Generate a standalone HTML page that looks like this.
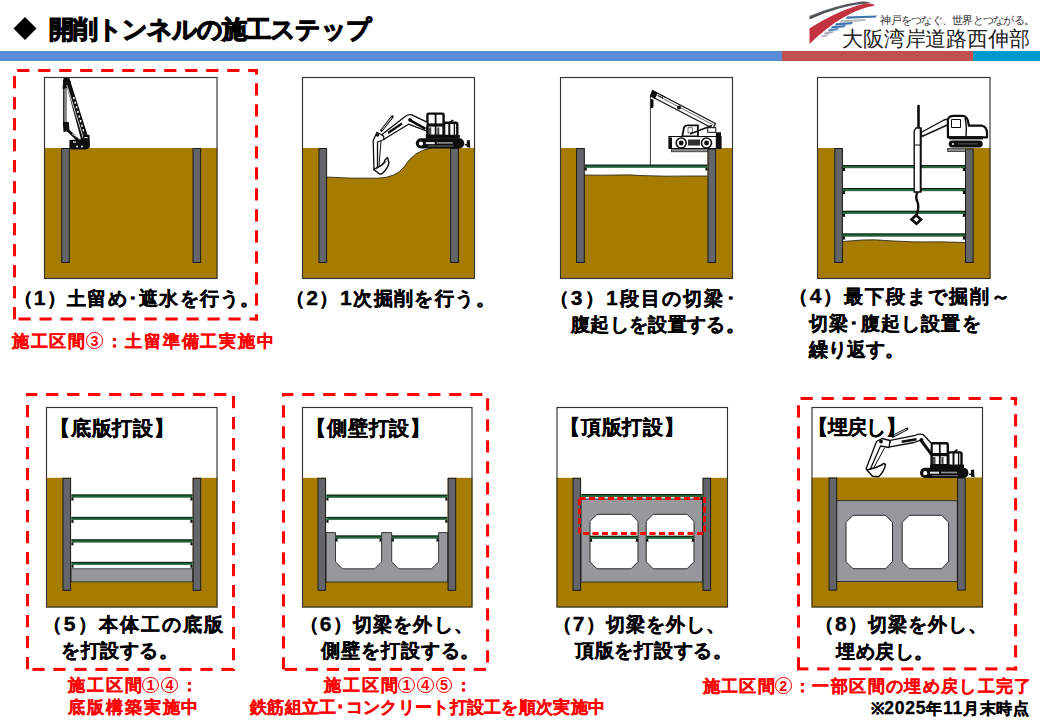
<!DOCTYPE html>
<html><head><meta charset="utf-8"><style>
html,body{margin:0;padding:0;background:#fff;}
#root{position:relative;width:1040px;height:720px;overflow:hidden;background:#fff;font-family:'Liberation Sans',sans-serif;}
svg{position:absolute;left:0;top:0;}
</style></head><body><div id="root">
<svg width="1040" height="720" viewBox="0 0 1040 720">
<rect x="0" y="51" width="782" height="10" fill="#558ED5"/>
<rect x="782" y="51" width="191" height="10" fill="#C0504D"/>
<rect x="973" y="51" width="67" height="10" fill="#0099CC"/>
<path d="M25 17 L36.5 28.5 L25 40 L13.5 28.5Z" fill="#000"/>
<path d="M809.5 16 Q836 5 862 1.5 Q868 1.2 871 3 Q840 5 809.5 19.5Z" fill="#4d4d4d"/>
<path d="M810 16.5 Q836 6.5 862 2.8" fill="none" stroke="#6b9bd0" stroke-width="0.6" stroke-dasharray="1 1.5"/>
<path d="M809.5 28.5 Q840 9 866 3.5 Q873 3 875 5.5 Q843 11 809.5 44Z" fill="#C3323F"/>
<path d="M847 16.6 L877 15.400000000000002 L875.5 17.5 L845.8 18.8Z" fill="#3a74b0"/>
<path d="M841 20.2 L866 19.0 L864.5 21.099999999999998 L839.8 22.4Z" fill="#b4b8bd"/>
<path d="M836 23.3 L853 22.1 L851.5 24.2 L834.8 25.5Z" fill="#3a74b0"/>
<path d="M832 26.3 L846 25.1 L844.5 27.2 L830.8 28.5Z" fill="#3a74b0"/>
<path d="M829 29.3 L839 28.1 L837.5 30.2 L827.8 31.5Z" fill="#4f86bf"/>
<path d="M825 32.3 L834 31.099999999999998 L832.5 33.199999999999996 L823.8 34.5Z" fill="#a9adb2"/>
<path d="M822 35.3 L829 34.099999999999994 L827.5 36.199999999999996 L820.8 37.5Z" fill="#b9bcc0"/>
<rect x="44" y="77" width="173.5" height="202" fill="#fff"/>
<rect x="44" y="148" width="173.5" height="131" fill="#A67C00"/>
<rect x="61.7" y="148.5" width="7.599999999999994" height="114" fill="#646568" stroke="#1a1a1a" stroke-width="1"/>
<rect x="193.0" y="148.5" width="7.599999999999994" height="114" fill="#646568" stroke="#1a1a1a" stroke-width="1"/>
<rect x="63.3" y="80" width="3.7" height="46" fill="#8c8c8c"/><line x1="63.7" y1="80" x2="63.7" y2="126" stroke="#0d0d0d" stroke-width="1"/>
<path d="M63.5 78 L68.5 77.8 L71 82 L67 88 L62.5 89 Z" fill="#0d0d0d"/>
<path d="M64.6 78.3 L69.4 78.3 L89.3 140.5 L81.3 140.5 Z" fill="#0d0d0d"/>
<path d="M66.8 85 L83.6 139" fill="none" stroke="#fff" stroke-width="0.8"/>
<rect x="73.10" y="97.00" width="1.5" height="2.2" fill="#fff"/>
<rect x="74.46" y="101.60" width="1.5" height="2.2" fill="#fff"/>
<rect x="75.81" y="106.20" width="1.5" height="2.2" fill="#fff"/>
<rect x="77.16" y="110.80" width="1.5" height="2.2" fill="#fff"/>
<rect x="78.52" y="115.40" width="1.5" height="2.2" fill="#fff"/>
<rect x="79.87" y="120.00" width="1.5" height="2.2" fill="#fff"/>
<rect x="81.22" y="124.60" width="1.5" height="2.2" fill="#fff"/>
<rect x="82.58" y="129.20" width="1.5" height="2.2" fill="#fff"/>
<rect x="83.93" y="133.80" width="1.5" height="2.2" fill="#fff"/>
<path d="M62.8 122 L68.8 122 L69.5 131 L63.5 132 Z" fill="#0d0d0d"/>
<path d="M66 128.5 L78 140" stroke="#0d0d0d" stroke-width="3"/>
<path d="M72 134 L77 137" stroke="#fff" stroke-width="0.8"/>
<path d="M69.4 140 L83 139 L84 134 L89.5 135 L90 147 Q88 149.5 85 149.5 L72 149.5 Q69 149.5 69.4 146Z" fill="#0d0d0d"/>
<rect x="73" y="141.5" width="3" height="1.2" fill="#fff"/><rect x="84.5" y="137" width="3" height="1.2" fill="#fff"/>
<circle cx="77" cy="146.5" r="0.9" fill="#fff"/><circle cx="82" cy="146.5" r="0.9" fill="#fff"/>
<rect x="44.5" y="77.5" width="172.5" height="201" fill="none" stroke="#333" stroke-width="1.15"/>
<rect x="302" y="77" width="173" height="202" fill="#fff"/>
<rect x="302" y="148" width="173" height="131" fill="#A67C00"/>
<path d="M326.5 147 L326.5 177 Q350 178.6 378 178.2 Q396 177.5 404 167 Q414 151 430 148.3 L432 148 L432 147 Z" fill="#fff"/>
<path d="M326.5 177 Q350 178.6 378 178.2 Q396 177.5 404 167 Q414 151 430 148.3 L432 148" fill="none" stroke="#1a1a1a" stroke-width="0.8"/>
<rect x="319.0" y="148.5" width="7.600000000000023" height="114" fill="#646568" stroke="#1a1a1a" stroke-width="1"/>
<rect x="450.6" y="148.5" width="7.7999999999999545" height="114" fill="#646568" stroke="#1a1a1a" stroke-width="1"/>
<g transform="translate(415.8,148.4)"><rect x="0" y="-10.2" width="48.5" height="10.2" rx="5.1" fill="#0d0d0d"/><rect x="10" y="-6.3" width="9" height="2" fill="#fff" opacity="0.9"/><rect x="21" y="-6.3" width="16" height="1.6" fill="#fff" opacity="0.55"/><rect x="12" y="-3" width="26" height="1.2" fill="#fff" opacity="0.35"/><circle cx="5.2" cy="-4.8" r="2.1" fill="#fff"/><path d="M49 -4.5 L51 -4.5 L51 -8 L54 -8.5 L54.5 -0.5 L51 -1.5 L51 -3 L49 -3Z" fill="#0d0d0d"/><rect x="10" y="-13.5" width="34" height="3.8" fill="#0d0d0d"/><rect x="11.6" y="-34.8" width="16.2" height="22" rx="1.2" fill="#fff" stroke="#0d0d0d" stroke-width="2.4"/><line x1="19.8" y1="-35" x2="19.8" y2="-13" stroke="#0d0d0d" stroke-width="1.8"/><rect x="11.4" y="-25" width="16.6" height="3.2" fill="#0d0d0d"/><ellipse cx="15.6" cy="-29.6" rx="2.2" ry="3.6" fill="#fff"/><rect x="12.5" y="-21" width="3" height="8" fill="#0d0d0d" opacity="0.75"/><rect x="21.5" y="-21" width="2" height="8" fill="#0d0d0d" opacity="0.8"/><rect x="28.3" y="-25.6" width="13.2" height="13.2" rx="1.5" fill="#fff" stroke="#0d0d0d" stroke-width="2.4"/><line x1="33.5" y1="-25" x2="33.5" y2="-13" stroke="#0d0d0d" stroke-width="2"/><line x1="38.6" y1="-25" x2="38.6" y2="-13" stroke="#0d0d0d" stroke-width="1.4"/><path d="M33 -26 L36.5 -29 L38 -28 L35 -25.5Z" fill="#0d0d0d"/></g>
<path d="M427.4 122.3 L411.3 114.7 Q407.5 114 404.5 117 L382 134.6 L383.9 139.3 L408.5 124.2 L426.5 131 Z" fill="#fff" stroke="#0d0d0d" stroke-width="1.3" stroke-linejoin="round"/>
<path d="M410.3 120.4 L425.5 128.9" stroke="#0d0d0d" stroke-width="2.6"/>
<circle cx="410" cy="119.8" r="1.9" fill="#0d0d0d"/>
<path d="M388 133 L402 123.5" stroke="#0d0d0d" stroke-width="2.2"/>
<path d="M381.5 130.5 L392.4 116.6" stroke="#0d0d0d" stroke-width="2.6" stroke-linecap="round"/>
<path d="M382.3 129.6 L391.7 117.4" stroke="#fff" stroke-width="0.9"/>
<path d="M383.5 136 L377 132.3 L373.2 140.5 L374 170 L377.5 170.5 L377.5 142 L384 139.5 Z" fill="#fff" stroke="#0d0d0d" stroke-width="1.3" stroke-linejoin="round"/>
<path d="M381 141 L378.8 168" stroke="#0d0d0d" stroke-width="1"/>
<circle cx="377.5" cy="135" r="1.8" fill="#0d0d0d"/>
<path d="M373.8 169.5 L379.5 174 L382 173.8 Q387.5 169 389 163 L387.5 157.5 L385 160 Q384 165 377 167.5 Z" fill="#fff" stroke="#0d0d0d" stroke-width="1.4" stroke-linejoin="round"/>
<path d="M376 169 L386.5 161.5" stroke="#0d0d0d" stroke-width="0.8"/>
<rect x="302.5" y="77.5" width="172" height="201" fill="none" stroke="#333" stroke-width="1.15"/>
<rect x="560" y="77" width="173" height="202" fill="#fff"/>
<rect x="560" y="148" width="173" height="131" fill="#A67C00"/>
<path d="M584.5 147 L584.5 175 Q600 175.3 618 175 Q630 174.5 640 175.5 Q665 176.5 690 176 L707.5 176 L707.5 147 Z" fill="#fff"/>
<path d="M584.5 175 Q600 175.3 618 175 Q630 174.5 640 175.5 Q665 176.5 690 176 L707.5 176" fill="none" stroke="#1a1a1a" stroke-width="0.8"/>
<rect x="576.6" y="148.5" width="7.699999999999932" height="114" fill="#646568" stroke="#1a1a1a" stroke-width="1"/>
<rect x="708.0" y="149.0" width="7.600000000000023" height="113.5" fill="#646568" stroke="#1a1a1a" stroke-width="1"/>
<rect x="584.8" y="164.70000000000002" width="122.70000000000005" height="3" fill="#1E6638"/>
<rect x="584.8" y="164.70000000000002" width="122.70000000000005" height="0.9" fill="#0d0d0d" opacity="0.9"/>
<rect x="584.8" y="167.00000000000003" width="122.70000000000005" height="0.7" fill="#3f6e50" opacity="0.9"/>
<path d="M584.8 167.70000000000002 l2.6 0 l-0.6 0.7 l0 1.6 l0.8 0.6 l-2.8 0z" fill="#0d0d0d"/>
<path d="M707.5 167.70000000000002 l-2.6 0 l0.6 0.7 l0 1.6 l-0.8 0.6 l2.8 0z" fill="#0d0d0d"/>
<rect x="671.5" y="148.8" width="36" height="3" fill="#8a8a8a" stroke="#222" stroke-width="0.7"/>
<path d="M652.5 90.5 L715.5 123.5 L713 128.5 L650.5 96 Z" fill="#fff" stroke="#0d0d0d" stroke-width="1.2"/>
<path d="M656 95 L713.5 125" stroke="#0d0d0d" stroke-width="0.6"/>
<path d="M652.5 90.5 L657.5 92.5 L655 99 L650.5 96 Z" fill="#0d0d0d"/>
<path d="M658 95.5 L663 98 M660.5 94.8 L665.5 97.5" stroke="#0d0d0d" stroke-width="1"/>
<circle cx="679" cy="107.5" r="2" fill="#0d0d0d"/>
<line x1="650.4" y1="96" x2="650.4" y2="165" stroke="#0d0d0d" stroke-width="0.8"/>
<path d="M650.8 99 L653.5 99.5 L653.5 107 Q652 109 650.5 107.5Z" fill="#0d0d0d"/>
<path d="M682.3 136.4 L684 127.5 Q685 125.4 687 125.4 L697.9 125.4 L697.9 136.4Z" fill="#fff" stroke="#0d0d0d" stroke-width="1.8"/>
<rect x="688" y="127.8" width="4.5" height="5" fill="#fff" stroke="#111" stroke-width="0.6"/>
<path d="M690 134 L712 125.5" stroke="#0d0d0d" stroke-width="1.6"/>
<rect x="707.7" y="127.7" width="8.1" height="4.6" fill="#fff" stroke="#0d0d0d" stroke-width="1"/>
<path d="M669 136.5 L721 136.5 L721 148.5 L669 148.5 Z" fill="#fff" stroke="#0d0d0d" stroke-width="1.2"/>
<rect x="669" y="137.5" width="3" height="11" fill="#0d0d0d"/>
<rect x="715.8" y="132.3" width="5.2" height="16.2" fill="#0d0d0d"/>
<rect x="688" y="139.5" width="12" height="6" fill="#0d0d0d" opacity="0.85"/>
<circle cx="681.2" cy="143" r="5" fill="#fff" stroke="#0d0d0d" stroke-width="1.6"/><circle cx="681.2" cy="143" r="2.4" fill="#0d0d0d"/>
<circle cx="706.5" cy="143" r="5" fill="#fff" stroke="#0d0d0d" stroke-width="1.6"/><circle cx="706.5" cy="143" r="2.4" fill="#0d0d0d"/>
<rect x="560.5" y="77.5" width="172" height="201" fill="none" stroke="#333" stroke-width="1.15"/>
<rect x="817" y="77" width="173.5" height="202" fill="#fff"/>
<rect x="817" y="148" width="173.5" height="131" fill="#A67C00"/>
<path d="M842.5 147 L842.5 241.5 Q852 240.8 862 240 Q875 239.3 890 240.8 Q915 242.5 940 241.8 L965.5 242.5 L965.5 147 Z" fill="#fff"/>
<path d="M842.5 241.5 Q852 240.8 862 240 Q875 239.3 890 240.8 Q915 242.5 940 241.8 L965.5 242.5" fill="none" stroke="#1a1a1a" stroke-width="0.8"/>
<rect x="834.8" y="148.5" width="7.600000000000023" height="114" fill="#646568" stroke="#1a1a1a" stroke-width="1"/>
<rect x="965.5" y="149.0" width="7.600000000000023" height="113.5" fill="#646568" stroke="#1a1a1a" stroke-width="1"/>
<rect x="842.9" y="165.10000000000002" width="122.10000000000002" height="3" fill="#1E6638"/>
<rect x="842.9" y="165.10000000000002" width="122.10000000000002" height="0.9" fill="#0d0d0d" opacity="0.9"/>
<rect x="842.9" y="167.40000000000003" width="122.10000000000002" height="0.7" fill="#3f6e50" opacity="0.9"/>
<path d="M842.9 168.10000000000002 l2.6 0 l-0.6 0.7 l0 1.6 l0.8 0.6 l-2.8 0z" fill="#0d0d0d"/>
<path d="M965 168.10000000000002 l-2.6 0 l0.6 0.7 l0 1.6 l-0.8 0.6 l2.8 0z" fill="#0d0d0d"/>
<rect x="842.9" y="188.10000000000002" width="122.10000000000002" height="3" fill="#1E6638"/>
<rect x="842.9" y="188.10000000000002" width="122.10000000000002" height="0.9" fill="#0d0d0d" opacity="0.9"/>
<rect x="842.9" y="190.40000000000003" width="122.10000000000002" height="0.7" fill="#3f6e50" opacity="0.9"/>
<path d="M842.9 191.10000000000002 l2.6 0 l-0.6 0.7 l0 1.6 l0.8 0.6 l-2.8 0z" fill="#0d0d0d"/>
<path d="M965 191.10000000000002 l-2.6 0 l0.6 0.7 l0 1.6 l-0.8 0.6 l2.8 0z" fill="#0d0d0d"/>
<rect x="842.9" y="210.8" width="122.10000000000002" height="3" fill="#1E6638"/>
<rect x="842.9" y="210.8" width="122.10000000000002" height="0.9" fill="#0d0d0d" opacity="0.9"/>
<rect x="842.9" y="213.10000000000002" width="122.10000000000002" height="0.7" fill="#3f6e50" opacity="0.9"/>
<path d="M842.9 213.8 l2.6 0 l-0.6 0.7 l0 1.6 l0.8 0.6 l-2.8 0z" fill="#0d0d0d"/>
<path d="M965 213.8 l-2.6 0 l0.6 0.7 l0 1.6 l-0.8 0.6 l2.8 0z" fill="#0d0d0d"/>
<rect x="842.9" y="233.5" width="122.10000000000002" height="3" fill="#1E6638"/>
<rect x="842.9" y="233.5" width="122.10000000000002" height="0.9" fill="#0d0d0d" opacity="0.9"/>
<rect x="842.9" y="235.8" width="122.10000000000002" height="0.7" fill="#3f6e50" opacity="0.9"/>
<path d="M842.9 236.5 l2.6 0 l-0.6 0.7 l0 1.6 l0.8 0.6 l-2.8 0z" fill="#0d0d0d"/>
<path d="M965 236.5 l-2.6 0 l0.6 0.7 l0 1.6 l-0.8 0.6 l2.8 0z" fill="#0d0d0d"/>
<rect x="947.6" y="148.6" width="17.8" height="3" fill="#8a8a8a" stroke="#222" stroke-width="0.7"/>
<line x1="918.5" y1="106" x2="918.5" y2="128" stroke="#0d0d0d" stroke-width="2.6" stroke-linecap="round"/>
<path d="M916 128 L921 128 L920.8 192 L914.2 192 L914.2 131Z" fill="#fff" stroke="#0d0d0d" stroke-width="1.4"/>
<line x1="914.5" y1="145" x2="920.5" y2="145" stroke="#0d0d0d" stroke-width="1"/>
<line x1="920.5" y1="128" x2="920.5" y2="192" stroke="#0d0d0d" stroke-width="1.6"/>
<path d="M917.5 192 Q915 197 917.5 202 Q919.5 207 916.5 215" fill="none" stroke="#0d0d0d" stroke-width="2.4"/>
<path d="M909.5 219.5 L916 213.5 L923 219.5 L916.5 225.5 Z" fill="#0d0d0d"/>
<path d="M913.5 219.5 L916 217 L919 219.5 L916.5 222 Z" fill="#fff"/>
<path d="M921 132.5 L944 120 Q947 118.5 949 119.5 L949.5 124 L922 136.5 Z" fill="#fff" stroke="#0d0d0d" stroke-width="1.4"/>
<path d="M948 137.4 L947.8 120 Q948.5 115.8 954 115.8 L963 115.8 Q967.5 116 968.6 124 L969 125.7 L982 125.7 Q987 127 987 133 L987 137.4 Z" fill="#fff" stroke="#0d0d0d" stroke-width="2.2" stroke-linejoin="round"/>
<path d="M951.5 119.5 L960.5 119.5 L960.5 127.5 L951.5 127.5 Z" fill="#fff" stroke="#0d0d0d" stroke-width="1"/>
<path d="M965 118 Q967 126 966 136" fill="none" stroke="#0d0d0d" stroke-width="1.4"/>
<rect x="949" y="136.2" width="34" height="3.2" fill="#0d0d0d"/>
<rect x="948.7" y="140.6" width="34" height="6.8" rx="3.4" fill="#0d0d0d"/>
<circle cx="953" cy="144" r="1" fill="#fff"/><rect x="958" y="143.4" width="20" height="0.9" fill="#fff" opacity="0.35"/>
<rect x="817.5" y="77.5" width="172.5" height="201" fill="none" stroke="#333" stroke-width="1.15"/>
<rect x="46" y="407" width="171.5" height="200.5" fill="#fff"/>
<rect x="46" y="477.8" width="171.5" height="129.7" fill="#A67C00"/>
<rect x="71" y="476" width="121.7" height="93" fill="#fff"/>
<rect x="71" y="568.8" width="121.7" height="13" fill="#96989C" stroke="#2a2a2a" stroke-width="0.8"/>
<rect x="63.0" y="478.3" width="7.599999999999994" height="111.99999999999994" fill="#646568" stroke="#1a1a1a" stroke-width="1"/>
<rect x="193.1" y="478.3" width="7.599999999999994" height="111.99999999999994" fill="#646568" stroke="#1a1a1a" stroke-width="1"/>
<rect x="71.4" y="494.5" width="121.1" height="3" fill="#1E6638"/>
<rect x="71.4" y="494.5" width="121.1" height="0.9" fill="#0d0d0d" opacity="0.9"/>
<rect x="71.4" y="496.8" width="121.1" height="0.7" fill="#3f6e50" opacity="0.9"/>
<path d="M71.4 497.5 l2.6 0 l-0.6 0.7 l0 1.6 l0.8 0.6 l-2.8 0z" fill="#0d0d0d"/>
<path d="M192.5 497.5 l-2.6 0 l0.6 0.7 l0 1.6 l-0.8 0.6 l2.8 0z" fill="#0d0d0d"/>
<rect x="71.4" y="516.9" width="121.1" height="3" fill="#1E6638"/>
<rect x="71.4" y="516.9" width="121.1" height="0.9" fill="#0d0d0d" opacity="0.9"/>
<rect x="71.4" y="519.1999999999999" width="121.1" height="0.7" fill="#3f6e50" opacity="0.9"/>
<path d="M71.4 519.9 l2.6 0 l-0.6 0.7 l0 1.6 l0.8 0.6 l-2.8 0z" fill="#0d0d0d"/>
<path d="M192.5 519.9 l-2.6 0 l0.6 0.7 l0 1.6 l-0.8 0.6 l2.8 0z" fill="#0d0d0d"/>
<rect x="71.4" y="539.4" width="121.1" height="3" fill="#1E6638"/>
<rect x="71.4" y="539.4" width="121.1" height="0.9" fill="#0d0d0d" opacity="0.9"/>
<rect x="71.4" y="541.6999999999999" width="121.1" height="0.7" fill="#3f6e50" opacity="0.9"/>
<path d="M71.4 542.4 l2.6 0 l-0.6 0.7 l0 1.6 l0.8 0.6 l-2.8 0z" fill="#0d0d0d"/>
<path d="M192.5 542.4 l-2.6 0 l0.6 0.7 l0 1.6 l-0.8 0.6 l2.8 0z" fill="#0d0d0d"/>
<rect x="71.4" y="561.9" width="121.1" height="3" fill="#1E6638"/>
<rect x="71.4" y="561.9" width="121.1" height="0.9" fill="#0d0d0d" opacity="0.9"/>
<rect x="71.4" y="564.1999999999999" width="121.1" height="0.7" fill="#3f6e50" opacity="0.9"/>
<path d="M71.4 564.9 l2.6 0 l-0.6 0.7 l0 1.6 l0.8 0.6 l-2.8 0z" fill="#0d0d0d"/>
<path d="M192.5 564.9 l-2.6 0 l0.6 0.7 l0 1.6 l-0.8 0.6 l2.8 0z" fill="#0d0d0d"/>
<rect x="46.5" y="407.5" width="170.5" height="199.5" fill="none" stroke="#333" stroke-width="1.15"/>
<rect x="302" y="407" width="170.5" height="200.5" fill="#fff"/>
<rect x="302" y="477.8" width="170.5" height="129.7" fill="#A67C00"/>
<rect x="326" y="476" width="121.7" height="106" fill="#fff"/>
<path d="M326 532.6 L335.5 532.6 L335.5 561.8 L342.5 568.8 L374.6 568.8 L381.6 561.8 L381.6 532.6 L391.7 532.6 L391.7 561.8 L398.7 568.8 L431.6 568.8 L438.6 561.8 L438.6 532.6 L447.7 532.6 L447.7 582 L326 582Z" fill="#96989C" stroke="#2a2a2a" stroke-width="0.9"/>
<rect x="318.0" y="478.3" width="7.600000000000023" height="111.99999999999994" fill="#646568" stroke="#1a1a1a" stroke-width="1"/>
<rect x="448.1" y="478.3" width="7.599999999999966" height="111.99999999999994" fill="#646568" stroke="#1a1a1a" stroke-width="1"/>
<rect x="326.4" y="494.7" width="121.0" height="3" fill="#1E6638"/>
<rect x="326.4" y="494.7" width="121.0" height="0.9" fill="#0d0d0d" opacity="0.9"/>
<rect x="326.4" y="497.0" width="121.0" height="0.7" fill="#3f6e50" opacity="0.9"/>
<path d="M326.4 497.7 l2.6 0 l-0.6 0.7 l0 1.6 l0.8 0.6 l-2.8 0z" fill="#0d0d0d"/>
<path d="M447.4 497.7 l-2.6 0 l0.6 0.7 l0 1.6 l-0.8 0.6 l2.8 0z" fill="#0d0d0d"/>
<rect x="326.4" y="516.9" width="121.0" height="3" fill="#1E6638"/>
<rect x="326.4" y="516.9" width="121.0" height="0.9" fill="#0d0d0d" opacity="0.9"/>
<rect x="326.4" y="519.1999999999999" width="121.0" height="0.7" fill="#3f6e50" opacity="0.9"/>
<path d="M326.4 519.9 l2.6 0 l-0.6 0.7 l0 1.6 l0.8 0.6 l-2.8 0z" fill="#0d0d0d"/>
<path d="M447.4 519.9 l-2.6 0 l0.6 0.7 l0 1.6 l-0.8 0.6 l2.8 0z" fill="#0d0d0d"/>
<rect x="335.5" y="535.5" width="46.10000000000002" height="3" fill="#1E6638"/>
<rect x="335.5" y="535.5" width="46.10000000000002" height="0.9" fill="#0d0d0d" opacity="0.9"/>
<rect x="335.5" y="537.8" width="46.10000000000002" height="0.7" fill="#3f6e50" opacity="0.9"/>
<path d="M335.5 538.5 l2.6 0 l-0.6 0.7 l0 1.6 l0.8 0.6 l-2.8 0z" fill="#0d0d0d"/>
<path d="M381.6 538.5 l-2.6 0 l0.6 0.7 l0 1.6 l-0.8 0.6 l2.8 0z" fill="#0d0d0d"/>
<rect x="391.7" y="535.5" width="46.900000000000034" height="3" fill="#1E6638"/>
<rect x="391.7" y="535.5" width="46.900000000000034" height="0.9" fill="#0d0d0d" opacity="0.9"/>
<rect x="391.7" y="537.8" width="46.900000000000034" height="0.7" fill="#3f6e50" opacity="0.9"/>
<path d="M391.7 538.5 l2.6 0 l-0.6 0.7 l0 1.6 l0.8 0.6 l-2.8 0z" fill="#0d0d0d"/>
<path d="M438.6 538.5 l-2.6 0 l0.6 0.7 l0 1.6 l-0.8 0.6 l2.8 0z" fill="#0d0d0d"/>
<rect x="302.5" y="407.5" width="169.5" height="199.5" fill="none" stroke="#333" stroke-width="1.15"/>
<rect x="556.5" y="407" width="171.5" height="200.5" fill="#fff"/>
<rect x="556.5" y="477.8" width="171.5" height="129.7" fill="#A67C00"/>
<rect x="581" y="476" width="121.7" height="24" fill="#fff"/>
<rect x="581" y="499" width="121.60000000000002" height="83" fill="#96989C" stroke="#2a2a2a" stroke-width="0.9"/>
<path d="M597 514.3 L631 514.3 L638 521.3 L638 561.8 L631 568.8 L597 568.8 L590 561.8 L590 521.3Z" fill="#fff" stroke="#2a2a2a" stroke-width="1"/>
<path d="M653.2 514.3 L687 514.3 L694 521.3 L694 561.8 L687 568.8 L653.2 568.8 L646.2 561.8 L646.2 521.3Z" fill="#fff" stroke="#2a2a2a" stroke-width="1"/>
<rect x="573.0" y="478.3" width="7.600000000000023" height="111.99999999999994" fill="#646568" stroke="#1a1a1a" stroke-width="1"/>
<rect x="703.0" y="478.3" width="7.600000000000023" height="111.99999999999994" fill="#646568" stroke="#1a1a1a" stroke-width="1"/>
<rect x="581.4" y="494.1" width="121.0" height="3" fill="#1E6638"/>
<rect x="581.4" y="494.1" width="121.0" height="0.9" fill="#0d0d0d" opacity="0.9"/>
<rect x="581.4" y="496.40000000000003" width="121.0" height="0.7" fill="#3f6e50" opacity="0.9"/>
<path d="M581.4 497.1 l2.6 0 l-0.6 0.7 l0 1.6 l0.8 0.6 l-2.8 0z" fill="#0d0d0d"/>
<path d="M702.4 497.1 l-2.6 0 l0.6 0.7 l0 1.6 l-0.8 0.6 l2.8 0z" fill="#0d0d0d"/>
<rect x="590" y="535.8" width="48" height="3" fill="#1E6638"/>
<rect x="590" y="535.8" width="48" height="0.9" fill="#0d0d0d" opacity="0.9"/>
<rect x="590" y="538.0999999999999" width="48" height="0.7" fill="#3f6e50" opacity="0.9"/>
<path d="M590 538.8 l2.6 0 l-0.6 0.7 l0 1.6 l0.8 0.6 l-2.8 0z" fill="#0d0d0d"/>
<path d="M638 538.8 l-2.6 0 l0.6 0.7 l0 1.6 l-0.8 0.6 l2.8 0z" fill="#0d0d0d"/>
<rect x="646.2" y="535.8" width="47.799999999999955" height="3" fill="#1E6638"/>
<rect x="646.2" y="535.8" width="47.799999999999955" height="0.9" fill="#0d0d0d" opacity="0.9"/>
<rect x="646.2" y="538.0999999999999" width="47.799999999999955" height="0.7" fill="#3f6e50" opacity="0.9"/>
<path d="M646.2 538.8 l2.6 0 l-0.6 0.7 l0 1.6 l0.8 0.6 l-2.8 0z" fill="#0d0d0d"/>
<path d="M694 538.8 l-2.6 0 l0.6 0.7 l0 1.6 l-0.8 0.6 l2.8 0z" fill="#0d0d0d"/>
<rect x="557.0" y="407.5" width="170.5" height="199.5" fill="none" stroke="#333" stroke-width="1.15"/>
<rect x="811.5" y="407" width="171.5" height="200.5" fill="#fff"/>
<rect x="811.5" y="477.5" width="171.5" height="130.0" fill="#A67C00"/>
<rect x="836.5" y="500.7" width="120.79999999999995" height="80.80000000000001" fill="#96989C" stroke="#2a2a2a" stroke-width="0.9"/>
<path d="M853 515.3 L885.5 515.3 L892.5 522.3 L892.5 561.7 L885.5 568.7 L853 568.7 L846 561.7 L846 522.3Z" fill="#fff" stroke="#2a2a2a" stroke-width="1"/>
<path d="M909.2 515.3 L941.6 515.3 L948.6 522.3 L948.6 561.7 L941.6 568.7 L909.2 568.7 L902.2 561.7 L902.2 522.3Z" fill="#fff" stroke="#2a2a2a" stroke-width="1"/>
<rect x="829.1" y="478.0" width="7.600000000000023" height="112.10000000000002" fill="#646568" stroke="#1a1a1a" stroke-width="1"/>
<rect x="957.6" y="478.0" width="7.600000000000023" height="112.10000000000002" fill="#646568" stroke="#1a1a1a" stroke-width="1"/>
<g transform="translate(920,478)"><rect x="0" y="-10.2" width="48.5" height="10.2" rx="5.1" fill="#0d0d0d"/><rect x="10" y="-6.3" width="9" height="2" fill="#fff" opacity="0.9"/><rect x="21" y="-6.3" width="16" height="1.6" fill="#fff" opacity="0.55"/><rect x="12" y="-3" width="26" height="1.2" fill="#fff" opacity="0.35"/><circle cx="5.2" cy="-4.8" r="2.1" fill="#fff"/><path d="M49 -4.5 L51 -4.5 L51 -8 L54 -8.5 L54.5 -0.5 L51 -1.5 L51 -3 L49 -3Z" fill="#0d0d0d"/><rect x="10" y="-13.5" width="34" height="3.8" fill="#0d0d0d"/><rect x="11.6" y="-34.8" width="16.2" height="22" rx="1.2" fill="#fff" stroke="#0d0d0d" stroke-width="2.4"/><line x1="19.8" y1="-35" x2="19.8" y2="-13" stroke="#0d0d0d" stroke-width="1.8"/><rect x="11.4" y="-25" width="16.6" height="3.2" fill="#0d0d0d"/><ellipse cx="15.6" cy="-29.6" rx="2.2" ry="3.6" fill="#fff"/><rect x="12.5" y="-21" width="3" height="8" fill="#0d0d0d" opacity="0.75"/><rect x="21.5" y="-21" width="2" height="8" fill="#0d0d0d" opacity="0.8"/><rect x="28.3" y="-25.6" width="13.2" height="13.2" rx="1.5" fill="#fff" stroke="#0d0d0d" stroke-width="2.4"/><line x1="33.5" y1="-25" x2="33.5" y2="-13" stroke="#0d0d0d" stroke-width="2"/><line x1="38.6" y1="-25" x2="38.6" y2="-13" stroke="#0d0d0d" stroke-width="1.4"/><path d="M33 -26 L36.5 -29 L38 -28 L35 -25.5Z" fill="#0d0d0d"/></g>
<path d="M931.5 443.5 L923.1 434.5 Q919 433.3 915.5 435.3 L890.3 440.3 L888.7 447.2 L914 442.5 L920 440.3 L930.8 454.8 Z" fill="#fff" stroke="#0d0d0d" stroke-width="1.3" stroke-linejoin="round"/>
<path d="M920.8 439.5 L930.8 453.3" stroke="#0d0d0d" stroke-width="2.6"/>
<circle cx="921.5" cy="439.8" r="1.9" fill="#0d0d0d"/>
<path d="M901.7 441.8 L916.5 439.3" stroke="#0d0d0d" stroke-width="2.4"/>
<path d="M892.6 436.5 L907.1 428.8" stroke="#0d0d0d" stroke-width="2.6" stroke-linecap="round"/>
<path d="M893.5 435.9 L906.3 429.3" stroke="#fff" stroke-width="0.9"/>
<path d="M890 440.5 L882 438.5 L876.5 441.5 L866 469 L869.5 471 L880.5 446 L889 447.5 Z" fill="#fff" stroke="#0d0d0d" stroke-width="1.3" stroke-linejoin="round"/>
<path d="M884.5 448 L871.5 472" stroke="#0d0d0d" stroke-width="1"/>
<circle cx="881" cy="441.5" r="1.9" fill="#0d0d0d"/>
<path d="M867 470 L872.5 476.2 L878.5 476.8 Q884 472 885.5 464.5 L883.5 463.5 Q880 466 876 467.5 Z" fill="#fff" stroke="#0d0d0d" stroke-width="1.4" stroke-linejoin="round"/>
<path d="M869 469.5 L883 465" stroke="#0d0d0d" stroke-width="0.8"/>
<rect x="812.0" y="407.5" width="170.5" height="199.5" fill="none" stroke="#333" stroke-width="1.15"/>
<rect x="579.5" y="498.5" width="125" height="35" fill="none" stroke="#FF0000" stroke-width="3" stroke-dasharray="6 3.5"/>
<rect x="17.20" y="69.0" width="12.20" height="3.0" fill="#FF0000"/>
<rect x="38.20" y="69.0" width="12.20" height="3.0" fill="#FF0000"/>
<rect x="59.20" y="69.0" width="12.20" height="3.0" fill="#FF0000"/>
<rect x="80.20" y="69.0" width="12.20" height="3.0" fill="#FF0000"/>
<rect x="101.20" y="69.0" width="12.20" height="3.0" fill="#FF0000"/>
<rect x="122.20" y="69.0" width="12.20" height="3.0" fill="#FF0000"/>
<rect x="143.20" y="69.0" width="12.20" height="3.0" fill="#FF0000"/>
<rect x="164.20" y="69.0" width="12.20" height="3.0" fill="#FF0000"/>
<rect x="185.20" y="69.0" width="12.20" height="3.0" fill="#FF0000"/>
<rect x="206.20" y="69.0" width="12.20" height="3.0" fill="#FF0000"/>
<rect x="227.20" y="69.0" width="12.20" height="3.0" fill="#FF0000"/>
<rect x="248.20" y="69.0" width="9.80" height="3.0" fill="#FF0000"/>
<rect x="18.50" y="317.5" width="12.20" height="3.0" fill="#FF0000"/>
<rect x="39.50" y="317.5" width="12.20" height="3.0" fill="#FF0000"/>
<rect x="60.50" y="317.5" width="12.20" height="3.0" fill="#FF0000"/>
<rect x="81.50" y="317.5" width="12.20" height="3.0" fill="#FF0000"/>
<rect x="102.50" y="317.5" width="12.20" height="3.0" fill="#FF0000"/>
<rect x="123.50" y="317.5" width="12.20" height="3.0" fill="#FF0000"/>
<rect x="144.50" y="317.5" width="12.20" height="3.0" fill="#FF0000"/>
<rect x="165.50" y="317.5" width="12.20" height="3.0" fill="#FF0000"/>
<rect x="186.50" y="317.5" width="12.20" height="3.0" fill="#FF0000"/>
<rect x="207.50" y="317.5" width="12.20" height="3.0" fill="#FF0000"/>
<rect x="228.50" y="317.5" width="12.20" height="3.0" fill="#FF0000"/>
<rect x="249.50" y="317.5" width="8.50" height="3.0" fill="#FF0000"/>
<rect x="255.0" y="69.00" width="3.0" height="5.50" fill="#FF0000"/>
<rect x="255.0" y="83.30" width="3.0" height="12.20" fill="#FF0000"/>
<rect x="255.0" y="104.30" width="3.0" height="12.20" fill="#FF0000"/>
<rect x="255.0" y="125.30" width="3.0" height="12.20" fill="#FF0000"/>
<rect x="255.0" y="146.30" width="3.0" height="12.20" fill="#FF0000"/>
<rect x="255.0" y="167.30" width="3.0" height="12.20" fill="#FF0000"/>
<rect x="255.0" y="188.30" width="3.0" height="12.20" fill="#FF0000"/>
<rect x="255.0" y="209.30" width="3.0" height="12.20" fill="#FF0000"/>
<rect x="255.0" y="230.30" width="3.0" height="12.20" fill="#FF0000"/>
<rect x="255.0" y="251.30" width="3.0" height="12.20" fill="#FF0000"/>
<rect x="255.0" y="272.30" width="3.0" height="12.20" fill="#FF0000"/>
<rect x="255.0" y="293.30" width="3.0" height="12.20" fill="#FF0000"/>
<rect x="255.0" y="314.30" width="3.0" height="6.20" fill="#FF0000"/>
<rect x="13.0" y="76.10" width="3.0" height="12.20" fill="#FF0000"/>
<rect x="13.0" y="97.10" width="3.0" height="12.20" fill="#FF0000"/>
<rect x="13.0" y="118.10" width="3.0" height="12.20" fill="#FF0000"/>
<rect x="13.0" y="139.10" width="3.0" height="12.20" fill="#FF0000"/>
<rect x="13.0" y="160.10" width="3.0" height="12.20" fill="#FF0000"/>
<rect x="13.0" y="181.10" width="3.0" height="12.20" fill="#FF0000"/>
<rect x="13.0" y="202.10" width="3.0" height="12.20" fill="#FF0000"/>
<rect x="13.0" y="223.10" width="3.0" height="12.20" fill="#FF0000"/>
<rect x="13.0" y="244.10" width="3.0" height="12.20" fill="#FF0000"/>
<rect x="13.0" y="265.10" width="3.0" height="12.20" fill="#FF0000"/>
<rect x="13.0" y="286.10" width="3.0" height="12.20" fill="#FF0000"/>
<rect x="13.0" y="307.10" width="3.0" height="12.20" fill="#FF0000"/>
<rect x="26.00" y="393.0" width="11.30" height="3.0" fill="#FF0000"/>
<rect x="46.10" y="393.0" width="12.20" height="3.0" fill="#FF0000"/>
<rect x="67.10" y="393.0" width="12.20" height="3.0" fill="#FF0000"/>
<rect x="88.10" y="393.0" width="12.20" height="3.0" fill="#FF0000"/>
<rect x="109.10" y="393.0" width="12.20" height="3.0" fill="#FF0000"/>
<rect x="130.10" y="393.0" width="12.20" height="3.0" fill="#FF0000"/>
<rect x="151.10" y="393.0" width="12.20" height="3.0" fill="#FF0000"/>
<rect x="172.10" y="393.0" width="12.20" height="3.0" fill="#FF0000"/>
<rect x="193.10" y="393.0" width="12.20" height="3.0" fill="#FF0000"/>
<rect x="214.10" y="393.0" width="12.20" height="3.0" fill="#FF0000"/>
<rect x="32.40" y="667.9" width="12.20" height="3.0" fill="#FF0000"/>
<rect x="53.40" y="667.9" width="12.20" height="3.0" fill="#FF0000"/>
<rect x="74.40" y="667.9" width="12.20" height="3.0" fill="#FF0000"/>
<rect x="95.40" y="667.9" width="12.20" height="3.0" fill="#FF0000"/>
<rect x="116.40" y="667.9" width="12.20" height="3.0" fill="#FF0000"/>
<rect x="137.40" y="667.9" width="12.20" height="3.0" fill="#FF0000"/>
<rect x="158.40" y="667.9" width="12.20" height="3.0" fill="#FF0000"/>
<rect x="179.40" y="667.9" width="12.20" height="3.0" fill="#FF0000"/>
<rect x="200.40" y="667.9" width="12.20" height="3.0" fill="#FF0000"/>
<rect x="221.40" y="667.9" width="12.20" height="3.0" fill="#FF0000"/>
<rect x="232.0" y="396.00" width="3.0" height="12.20" fill="#FF0000"/>
<rect x="232.0" y="417.00" width="3.0" height="12.20" fill="#FF0000"/>
<rect x="232.0" y="438.00" width="3.0" height="12.20" fill="#FF0000"/>
<rect x="232.0" y="459.00" width="3.0" height="12.20" fill="#FF0000"/>
<rect x="232.0" y="480.00" width="3.0" height="12.20" fill="#FF0000"/>
<rect x="232.0" y="501.00" width="3.0" height="12.20" fill="#FF0000"/>
<rect x="232.0" y="522.00" width="3.0" height="12.20" fill="#FF0000"/>
<rect x="232.0" y="543.00" width="3.0" height="12.20" fill="#FF0000"/>
<rect x="232.0" y="564.00" width="3.0" height="12.20" fill="#FF0000"/>
<rect x="232.0" y="585.00" width="3.0" height="12.20" fill="#FF0000"/>
<rect x="232.0" y="606.00" width="3.0" height="12.20" fill="#FF0000"/>
<rect x="232.0" y="627.00" width="3.0" height="12.20" fill="#FF0000"/>
<rect x="232.0" y="648.00" width="3.0" height="12.20" fill="#FF0000"/>
<rect x="232.0" y="669.00" width="3.0" height="1.90" fill="#FF0000"/>
<rect x="26.0" y="393.00" width="3.0" height="3.20" fill="#FF0000"/>
<rect x="26.0" y="405.00" width="3.0" height="12.20" fill="#FF0000"/>
<rect x="26.0" y="426.00" width="3.0" height="12.20" fill="#FF0000"/>
<rect x="26.0" y="447.00" width="3.0" height="12.20" fill="#FF0000"/>
<rect x="26.0" y="468.00" width="3.0" height="12.20" fill="#FF0000"/>
<rect x="26.0" y="489.00" width="3.0" height="12.20" fill="#FF0000"/>
<rect x="26.0" y="510.00" width="3.0" height="12.20" fill="#FF0000"/>
<rect x="26.0" y="531.00" width="3.0" height="12.20" fill="#FF0000"/>
<rect x="26.0" y="552.00" width="3.0" height="12.20" fill="#FF0000"/>
<rect x="26.0" y="573.00" width="3.0" height="12.20" fill="#FF0000"/>
<rect x="26.0" y="594.00" width="3.0" height="12.20" fill="#FF0000"/>
<rect x="26.0" y="615.00" width="3.0" height="12.20" fill="#FF0000"/>
<rect x="26.0" y="636.00" width="3.0" height="12.20" fill="#FF0000"/>
<rect x="26.0" y="657.00" width="3.0" height="12.20" fill="#FF0000"/>
<rect x="282.00" y="393.0" width="11.40" height="3.0" fill="#FF0000"/>
<rect x="302.20" y="393.0" width="12.20" height="3.0" fill="#FF0000"/>
<rect x="323.20" y="393.0" width="12.20" height="3.0" fill="#FF0000"/>
<rect x="344.20" y="393.0" width="12.20" height="3.0" fill="#FF0000"/>
<rect x="365.20" y="393.0" width="12.20" height="3.0" fill="#FF0000"/>
<rect x="386.20" y="393.0" width="12.20" height="3.0" fill="#FF0000"/>
<rect x="407.20" y="393.0" width="12.20" height="3.0" fill="#FF0000"/>
<rect x="428.20" y="393.0" width="12.20" height="3.0" fill="#FF0000"/>
<rect x="449.20" y="393.0" width="12.20" height="3.0" fill="#FF0000"/>
<rect x="470.20" y="393.0" width="12.20" height="3.0" fill="#FF0000"/>
<rect x="284.80" y="667.9" width="12.20" height="3.0" fill="#FF0000"/>
<rect x="305.80" y="667.9" width="12.20" height="3.0" fill="#FF0000"/>
<rect x="326.80" y="667.9" width="12.20" height="3.0" fill="#FF0000"/>
<rect x="347.80" y="667.9" width="12.20" height="3.0" fill="#FF0000"/>
<rect x="368.80" y="667.9" width="12.20" height="3.0" fill="#FF0000"/>
<rect x="389.80" y="667.9" width="12.20" height="3.0" fill="#FF0000"/>
<rect x="410.80" y="667.9" width="12.20" height="3.0" fill="#FF0000"/>
<rect x="431.80" y="667.9" width="12.20" height="3.0" fill="#FF0000"/>
<rect x="452.80" y="667.9" width="12.20" height="3.0" fill="#FF0000"/>
<rect x="473.80" y="667.9" width="12.20" height="3.0" fill="#FF0000"/>
<rect x="486.1" y="398.30" width="3.0" height="12.20" fill="#FF0000"/>
<rect x="486.1" y="419.30" width="3.0" height="12.20" fill="#FF0000"/>
<rect x="486.1" y="440.30" width="3.0" height="12.20" fill="#FF0000"/>
<rect x="486.1" y="461.30" width="3.0" height="12.20" fill="#FF0000"/>
<rect x="486.1" y="482.30" width="3.0" height="12.20" fill="#FF0000"/>
<rect x="486.1" y="503.30" width="3.0" height="12.20" fill="#FF0000"/>
<rect x="486.1" y="524.30" width="3.0" height="12.20" fill="#FF0000"/>
<rect x="486.1" y="545.30" width="3.0" height="12.20" fill="#FF0000"/>
<rect x="486.1" y="566.30" width="3.0" height="12.20" fill="#FF0000"/>
<rect x="486.1" y="587.30" width="3.0" height="12.20" fill="#FF0000"/>
<rect x="486.1" y="608.30" width="3.0" height="12.20" fill="#FF0000"/>
<rect x="486.1" y="629.30" width="3.0" height="12.20" fill="#FF0000"/>
<rect x="486.1" y="650.30" width="3.0" height="12.20" fill="#FF0000"/>
<rect x="282.0" y="393.00" width="3.0" height="3.50" fill="#FF0000"/>
<rect x="282.0" y="405.30" width="3.0" height="12.20" fill="#FF0000"/>
<rect x="282.0" y="426.30" width="3.0" height="12.20" fill="#FF0000"/>
<rect x="282.0" y="447.30" width="3.0" height="12.20" fill="#FF0000"/>
<rect x="282.0" y="468.30" width="3.0" height="12.20" fill="#FF0000"/>
<rect x="282.0" y="489.30" width="3.0" height="12.20" fill="#FF0000"/>
<rect x="282.0" y="510.30" width="3.0" height="12.20" fill="#FF0000"/>
<rect x="282.0" y="531.30" width="3.0" height="12.20" fill="#FF0000"/>
<rect x="282.0" y="552.30" width="3.0" height="12.20" fill="#FF0000"/>
<rect x="282.0" y="573.30" width="3.0" height="12.20" fill="#FF0000"/>
<rect x="282.0" y="594.30" width="3.0" height="12.20" fill="#FF0000"/>
<rect x="282.0" y="615.30" width="3.0" height="12.20" fill="#FF0000"/>
<rect x="282.0" y="636.30" width="3.0" height="12.20" fill="#FF0000"/>
<rect x="282.0" y="657.30" width="3.0" height="12.20" fill="#FF0000"/>
<rect x="800.60" y="397.0" width="12.20" height="3.0" fill="#FF0000"/>
<rect x="821.60" y="397.0" width="12.20" height="3.0" fill="#FF0000"/>
<rect x="842.60" y="397.0" width="12.20" height="3.0" fill="#FF0000"/>
<rect x="863.60" y="397.0" width="12.20" height="3.0" fill="#FF0000"/>
<rect x="884.60" y="397.0" width="12.20" height="3.0" fill="#FF0000"/>
<rect x="905.60" y="397.0" width="12.20" height="3.0" fill="#FF0000"/>
<rect x="926.60" y="397.0" width="12.20" height="3.0" fill="#FF0000"/>
<rect x="947.60" y="397.0" width="12.20" height="3.0" fill="#FF0000"/>
<rect x="968.60" y="397.0" width="12.20" height="3.0" fill="#FF0000"/>
<rect x="989.60" y="397.0" width="12.20" height="3.0" fill="#FF0000"/>
<rect x="1010.60" y="397.0" width="6.50" height="3.0" fill="#FF0000"/>
<rect x="797.00" y="667.4" width="11.40" height="3.0" fill="#FF0000"/>
<rect x="817.20" y="667.4" width="12.20" height="3.0" fill="#FF0000"/>
<rect x="838.20" y="667.4" width="12.20" height="3.0" fill="#FF0000"/>
<rect x="859.20" y="667.4" width="12.20" height="3.0" fill="#FF0000"/>
<rect x="880.20" y="667.4" width="12.20" height="3.0" fill="#FF0000"/>
<rect x="901.20" y="667.4" width="12.20" height="3.0" fill="#FF0000"/>
<rect x="922.20" y="667.4" width="12.20" height="3.0" fill="#FF0000"/>
<rect x="943.20" y="667.4" width="12.20" height="3.0" fill="#FF0000"/>
<rect x="964.20" y="667.4" width="12.20" height="3.0" fill="#FF0000"/>
<rect x="985.20" y="667.4" width="12.20" height="3.0" fill="#FF0000"/>
<rect x="1006.20" y="667.4" width="10.90" height="3.0" fill="#FF0000"/>
<rect x="1014.1" y="397.00" width="3.0" height="8.40" fill="#FF0000"/>
<rect x="1014.1" y="414.20" width="3.0" height="12.20" fill="#FF0000"/>
<rect x="1014.1" y="435.20" width="3.0" height="12.20" fill="#FF0000"/>
<rect x="1014.1" y="456.20" width="3.0" height="12.20" fill="#FF0000"/>
<rect x="1014.1" y="477.20" width="3.0" height="12.20" fill="#FF0000"/>
<rect x="1014.1" y="498.20" width="3.0" height="12.20" fill="#FF0000"/>
<rect x="1014.1" y="519.20" width="3.0" height="12.20" fill="#FF0000"/>
<rect x="1014.1" y="540.20" width="3.0" height="12.20" fill="#FF0000"/>
<rect x="1014.1" y="561.20" width="3.0" height="12.20" fill="#FF0000"/>
<rect x="1014.1" y="582.20" width="3.0" height="12.20" fill="#FF0000"/>
<rect x="1014.1" y="603.20" width="3.0" height="12.20" fill="#FF0000"/>
<rect x="1014.1" y="624.20" width="3.0" height="12.20" fill="#FF0000"/>
<rect x="1014.1" y="645.20" width="3.0" height="12.20" fill="#FF0000"/>
<rect x="1014.1" y="666.20" width="3.0" height="4.20" fill="#FF0000"/>
<rect x="797.0" y="405.30" width="3.0" height="12.20" fill="#FF0000"/>
<rect x="797.0" y="426.30" width="3.0" height="12.20" fill="#FF0000"/>
<rect x="797.0" y="447.30" width="3.0" height="12.20" fill="#FF0000"/>
<rect x="797.0" y="468.30" width="3.0" height="12.20" fill="#FF0000"/>
<rect x="797.0" y="489.30" width="3.0" height="12.20" fill="#FF0000"/>
<rect x="797.0" y="510.30" width="3.0" height="12.20" fill="#FF0000"/>
<rect x="797.0" y="531.30" width="3.0" height="12.20" fill="#FF0000"/>
<rect x="797.0" y="552.30" width="3.0" height="12.20" fill="#FF0000"/>
<rect x="797.0" y="573.30" width="3.0" height="12.20" fill="#FF0000"/>
<rect x="797.0" y="594.30" width="3.0" height="12.20" fill="#FF0000"/>
<rect x="797.0" y="615.30" width="3.0" height="12.20" fill="#FF0000"/>
<rect x="797.0" y="636.30" width="3.0" height="12.20" fill="#FF0000"/>
<rect x="797.0" y="657.30" width="3.0" height="12.20" fill="#FF0000"/>
</svg>
<div style="position:absolute;left:48.6px;top:16.55px;font-size:25.08px;color:#000;font-weight:bold;font-family:'Liberation Sans', sans-serif;letter-spacing:-0.916px;white-space:nowrap;line-height:1;-webkit-text-stroke:1.1px #000">開削トンネルの施工ステップ</div><div style="position:absolute;left:880.3px;top:15.4px;font-size:10.8px;color:#333;font-weight:normal;font-family:'Liberation Serif', serif;letter-spacing:-0.749px;white-space:nowrap;line-height:1;-webkit-text-stroke:0px #333">神戸をつなぐ、世界とつながる。</div><div style="position:absolute;left:842.0px;top:28.85px;font-size:20.5px;color:#222;font-weight:normal;font-family:'Liberation Serif', serif;letter-spacing:-0.126px;white-space:nowrap;line-height:1;-webkit-text-stroke:0px #222">大阪湾岸道路西伸部</div><div style="position:absolute;left:13.6px;top:290.3px;font-size:18.5px;color:#000;font-weight:bold;font-family:'Liberation Sans', sans-serif;letter-spacing:1.25px;white-space:nowrap;line-height:1;-webkit-text-stroke:0.35px #000">（<span style="font-size:1.14em;line-height:0">1</span>）土留め･遮水を行う。</div><div style="position:absolute;left:285.8px;top:289.8px;font-size:18.5px;color:#000;font-weight:bold;font-family:'Liberation Sans', sans-serif;letter-spacing:1.46px;white-space:nowrap;line-height:1;-webkit-text-stroke:0.35px #000">（<span style="font-size:1.14em;line-height:0">2</span>）<span style="font-size:1.14em;line-height:0">1</span>次掘削を行う。</div><div style="position:absolute;left:549.6px;top:290.4px;font-size:18.5px;color:#000;font-weight:bold;font-family:'Liberation Sans', sans-serif;letter-spacing:2.179px;white-space:nowrap;line-height:1;-webkit-text-stroke:0.35px #000">（<span style="font-size:1.14em;line-height:0">3</span>）<span style="font-size:1.14em;line-height:0">1</span>段目の切梁･</div><div style="position:absolute;left:571.0px;top:315.95px;font-size:18.5px;color:#000;font-weight:bold;font-family:'Liberation Sans', sans-serif;letter-spacing:0.322px;white-space:nowrap;line-height:1;-webkit-text-stroke:0.35px #000">腹起しを設置する。</div><div style="position:absolute;left:788.7px;top:287.9px;font-size:18.5px;color:#000;font-weight:bold;font-family:'Liberation Sans', sans-serif;letter-spacing:1.98px;white-space:nowrap;line-height:1;-webkit-text-stroke:0.35px #000">（<span style="font-size:1.14em;line-height:0">4</span>）最下段まで掘削～</div><div style="position:absolute;left:809.0px;top:314.9px;font-size:18.5px;color:#000;font-weight:bold;font-family:'Liberation Sans', sans-serif;letter-spacing:1.2px;white-space:nowrap;line-height:1;-webkit-text-stroke:0.35px #000">切梁･腹起し設置を</div><div style="position:absolute;left:809.0px;top:340.8px;font-size:18.5px;color:#000;font-weight:bold;font-family:'Liberation Sans', sans-serif;letter-spacing:-0.1px;white-space:nowrap;line-height:1;-webkit-text-stroke:0.35px #000">繰り返す。</div><div style="position:absolute;left:11.7px;top:333.9px;font-size:16.7px;color:#FF0000;font-weight:bold;font-family:'Liberation Sans', sans-serif;letter-spacing:1.904px;white-space:nowrap;line-height:1;-webkit-text-stroke:0.3px #FF0000">施工区間<span style="display:inline-block;position:relative;width:1em;height:1em;margin-right:1.904px;letter-spacing:0;vertical-align:top;-webkit-text-stroke:0"><span style="position:absolute;left:-0.07em;top:-0.1em;width:1em;height:1em;box-sizing:border-box;border:1.1px solid #FF0000;border-radius:50%;"></span><span style="position:absolute;left:-0.07em;width:1em;top:-0.08em;text-align:center;font-size:1em;"><span style="font-size:0.86em;font-family:'Liberation Sans',sans-serif;font-weight:bold;">3</span></span></span>：土留準備工実施中</div><div style="position:absolute;left:50.2px;top:418.88px;font-size:19.6px;color:#000;font-weight:bold;font-family:'Liberation Sans', sans-serif;letter-spacing:0.76px;white-space:nowrap;line-height:1;-webkit-text-stroke:0.35px #000">【底版打設】</div><div style="position:absolute;left:306.2px;top:418.88px;font-size:19.6px;color:#000;font-weight:bold;font-family:'Liberation Sans', sans-serif;letter-spacing:0.8px;white-space:nowrap;line-height:1;-webkit-text-stroke:0.35px #000">【側壁打設】</div><div style="position:absolute;left:560.2px;top:418.38px;font-size:19.6px;color:#000;font-weight:bold;font-family:'Liberation Sans', sans-serif;letter-spacing:0.76px;white-space:nowrap;line-height:1;-webkit-text-stroke:0.35px #000">【頂版打設】</div><div style="position:absolute;left:808.2px;top:418.38px;font-size:19.6px;color:#000;font-weight:bold;font-family:'Liberation Sans', sans-serif;letter-spacing:-0.578px;white-space:nowrap;line-height:1;-webkit-text-stroke:0.35px #000">【埋戻し】</div><div style="position:absolute;left:42.8px;top:616.4px;font-size:18.5px;color:#000;font-weight:bold;font-family:'Liberation Sans', sans-serif;letter-spacing:2.028px;white-space:nowrap;line-height:1;-webkit-text-stroke:0.35px #000">（<span style="font-size:1.14em;line-height:0">5</span>）本体工の底版</div><div style="position:absolute;left:61.4px;top:642.35px;font-size:18.5px;color:#000;font-weight:bold;font-family:'Liberation Sans', sans-serif;letter-spacing:0.44px;white-space:nowrap;line-height:1;-webkit-text-stroke:0.35px #000">を打設する。</div><div style="position:absolute;left:299.6px;top:616.4px;font-size:18.5px;color:#000;font-weight:bold;font-family:'Liberation Sans', sans-serif;letter-spacing:1.169px;white-space:nowrap;line-height:1;-webkit-text-stroke:0.35px #000">（<span style="font-size:1.14em;line-height:0">6</span>）切梁を外し、</div><div style="position:absolute;left:321.3px;top:642.45px;font-size:18.5px;color:#000;font-weight:bold;font-family:'Liberation Sans', sans-serif;letter-spacing:0.885px;white-space:nowrap;line-height:1;-webkit-text-stroke:0.35px #000">側壁を打設する。</div><div style="position:absolute;left:552.6px;top:616.4px;font-size:18.5px;color:#000;font-weight:bold;font-family:'Liberation Sans', sans-serif;letter-spacing:1.091px;white-space:nowrap;line-height:1;-webkit-text-stroke:0.35px #000">（<span style="font-size:1.14em;line-height:0">7</span>）切梁を外し、</div><div style="position:absolute;left:574.8px;top:642.35px;font-size:18.5px;color:#000;font-weight:bold;font-family:'Liberation Sans', sans-serif;letter-spacing:0.745px;white-space:nowrap;line-height:1;-webkit-text-stroke:0.35px #000">頂版を打設する。</div><div style="position:absolute;left:814.9px;top:616.4px;font-size:18.5px;color:#000;font-weight:bold;font-family:'Liberation Sans', sans-serif;letter-spacing:0.997px;white-space:nowrap;line-height:1;-webkit-text-stroke:0.35px #000">（<span style="font-size:1.14em;line-height:0">8</span>）切梁を外し、</div><div style="position:absolute;left:836.2px;top:643.35px;font-size:18.5px;color:#000;font-weight:bold;font-family:'Liberation Sans', sans-serif;letter-spacing:0.45px;white-space:nowrap;line-height:1;-webkit-text-stroke:0.35px #000">埋め戻し。</div><div style="position:absolute;left:67.6px;top:678.45px;font-size:16.7px;color:#FF0000;font-weight:bold;font-family:'Liberation Sans', sans-serif;letter-spacing:2.001px;white-space:nowrap;line-height:1;-webkit-text-stroke:0.3px #FF0000">施工区間<span style="display:inline-block;position:relative;width:1em;height:1em;margin-right:2.001px;letter-spacing:0;vertical-align:top;-webkit-text-stroke:0"><span style="position:absolute;left:-0.07em;top:-0.1em;width:1em;height:1em;box-sizing:border-box;border:1.1px solid #FF0000;border-radius:50%;"></span><span style="position:absolute;left:-0.07em;width:1em;top:-0.08em;text-align:center;font-size:1em;"><span style="font-size:0.86em;font-family:'Liberation Sans',sans-serif;font-weight:bold;">1</span></span></span><span style="display:inline-block;position:relative;width:1em;height:1em;margin-right:2.001px;letter-spacing:0;vertical-align:top;-webkit-text-stroke:0"><span style="position:absolute;left:-0.07em;top:-0.1em;width:1em;height:1em;box-sizing:border-box;border:1.1px solid #FF0000;border-radius:50%;"></span><span style="position:absolute;left:-0.07em;width:1em;top:-0.08em;text-align:center;font-size:1em;"><span style="font-size:0.86em;font-family:'Liberation Sans',sans-serif;font-weight:bold;">4</span></span></span>：</div><div style="position:absolute;left:68.0px;top:699.85px;font-size:16.7px;color:#FF0000;font-weight:bold;font-family:'Liberation Sans', sans-serif;letter-spacing:1.902px;white-space:nowrap;line-height:1;-webkit-text-stroke:0.3px #FF0000">底版構築実施中</div><div style="position:absolute;left:323.7px;top:678.35px;font-size:16.7px;color:#FF0000;font-weight:bold;font-family:'Liberation Sans', sans-serif;letter-spacing:1.945px;white-space:nowrap;line-height:1;-webkit-text-stroke:0.3px #FF0000">施工区間<span style="display:inline-block;position:relative;width:1em;height:1em;margin-right:1.945px;letter-spacing:0;vertical-align:top;-webkit-text-stroke:0"><span style="position:absolute;left:-0.07em;top:-0.1em;width:1em;height:1em;box-sizing:border-box;border:1.1px solid #FF0000;border-radius:50%;"></span><span style="position:absolute;left:-0.07em;width:1em;top:-0.08em;text-align:center;font-size:1em;"><span style="font-size:0.86em;font-family:'Liberation Sans',sans-serif;font-weight:bold;">1</span></span></span><span style="display:inline-block;position:relative;width:1em;height:1em;margin-right:1.945px;letter-spacing:0;vertical-align:top;-webkit-text-stroke:0"><span style="position:absolute;left:-0.07em;top:-0.1em;width:1em;height:1em;box-sizing:border-box;border:1.1px solid #FF0000;border-radius:50%;"></span><span style="position:absolute;left:-0.07em;width:1em;top:-0.08em;text-align:center;font-size:1em;"><span style="font-size:0.86em;font-family:'Liberation Sans',sans-serif;font-weight:bold;">4</span></span></span><span style="display:inline-block;position:relative;width:1em;height:1em;margin-right:1.945px;letter-spacing:0;vertical-align:top;-webkit-text-stroke:0"><span style="position:absolute;left:-0.07em;top:-0.1em;width:1em;height:1em;box-sizing:border-box;border:1.1px solid #FF0000;border-radius:50%;"></span><span style="position:absolute;left:-0.07em;width:1em;top:-0.08em;text-align:center;font-size:1em;"><span style="font-size:0.86em;font-family:'Liberation Sans',sans-serif;font-weight:bold;">5</span></span></span>：</div><div style="position:absolute;left:250.0px;top:699.85px;font-size:16.7px;color:#FF0000;font-weight:bold;font-family:'Liberation Sans', sans-serif;letter-spacing:0.3px;white-space:nowrap;line-height:1;-webkit-text-stroke:0.3px #FF0000">鉄筋組立工･コンクリート打設工を順次実施中</div><div style="position:absolute;left:702.7px;top:679.05px;font-size:16.7px;color:#FF0000;font-weight:bold;font-family:'Liberation Sans', sans-serif;letter-spacing:1.352px;white-space:nowrap;line-height:1;-webkit-text-stroke:0.3px #FF0000">施工区間<span style="display:inline-block;position:relative;width:1em;height:1em;margin-right:1.352px;letter-spacing:0;vertical-align:top;-webkit-text-stroke:0"><span style="position:absolute;left:-0.07em;top:-0.1em;width:1em;height:1em;box-sizing:border-box;border:1.1px solid #FF0000;border-radius:50%;"></span><span style="position:absolute;left:-0.07em;width:1em;top:-0.08em;text-align:center;font-size:1em;"><span style="font-size:0.86em;font-family:'Liberation Sans',sans-serif;font-weight:bold;">2</span></span></span>：一部区間の埋め戻し工完了</div><div style="position:absolute;left:870.5px;top:701.35px;font-size:16.0px;color:#000;font-weight:bold;font-family:'Liberation Sans', sans-serif;letter-spacing:0.717px;white-space:nowrap;line-height:1;-webkit-text-stroke:0.3px #000">※<span style="font-size:1.1em;line-height:0">2025</span>年<span style="font-size:1.1em;line-height:0">11</span>月末時点</div>
</div></body></html>
